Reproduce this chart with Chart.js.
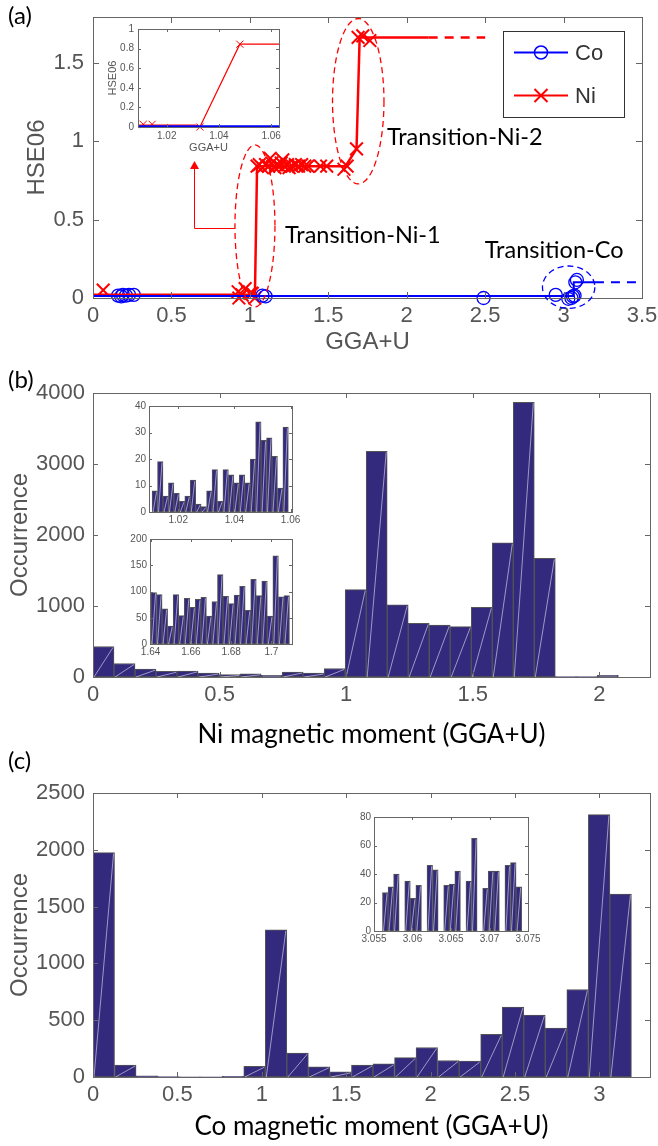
<!DOCTYPE html>
<html>
<head>
<meta charset="utf-8">
<script src="https://cdn.jsdelivr.net/npm/chart.js@4.4.1/dist/chart.umd.min.js"></script>
<style>
  body { margin: 0; background: #fff; width: 658px; height: 1146px; position: relative; overflow: hidden; }
  canvas { position: absolute; }
</style>
</head>
<body>
<canvas id="panelA"></canvas>
<canvas id="panelB"></canvas>
<canvas id="panelC"></canvas>
<canvas id="insetA"></canvas>
<canvas id="insetB1"></canvas>
<canvas id="insetB2"></canvas>
<canvas id="insetC"></canvas>
<script>
// ---------- data ----------
// (a) HSE06 vs GGA+U magnetic moments
const seriesNames = ['Co', 'Ni'];

const coX = [0.16, 0.18, 0.19, 0.21, 0.23, 0.26, 1.08, 1.10, 2.49, 2.95, 3.03, 3.05, 3.06, 3.07, 3.075, 3.085];
const coY = [0.015, 0.01, 0.02, 0.015, 0.02, 0.02, 0.015, 0.01, 0.0, 0.02, -0.005, 0.0, 0.01, 0.015, 0.10, 0.115];
const niX = [0.065, 0.925, 0.93, 0.95, 0.97, 1.0, 1.012, 1.015, 1.032,
  1.046, 1.06, 1.08, 1.10, 1.12, 1.13, 1.14, 1.16, 1.17, 1.19, 1.20, 1.21, 1.22, 1.24, 1.25, 1.27,
  1.29, 1.31, 1.33, 1.35, 1.37, 1.45, 1.49, 1.60, 1.62, 1.68, 1.69, 1.72, 1.765];
const niY = [0.05, 0.04, 0.0, 0.02, 0.06, 0.03, 0.03, 0.03, 0.0,
  0.84, 0.85, 0.83, 0.85, 0.84, 0.89, 0.86, 0.83, 0.85, 0.84, 0.86, 0.88, 0.84, 0.85, 0.83, 0.84,
  0.85, 0.84, 0.85, 0.84, 0.84, 0.84, 0.84, 0.82, 0.84, 0.95, 1.66, 1.67, 1.64];

const coPathX = [0, 3.065, 3.065, 3.2];
const coPathY = [0.012, 0.012, 0.10, 0.10];
const coDashX = [3.2, 3.5];
const coDashY = [0.10, 0.10];
const niPathX = [0, 1.03, 1.032, 1.046, 1.61, 1.68, 1.70, 2.14];
const niPathY = [0.02, 0.02, 0.005, 0.84, 0.84, 0.95, 1.66, 1.66];
const niDashX = [2.14, 2.5];
const niDashY = [1.66, 1.66];

// (a) inset
const zoomCoPathX = [1.009, 1.063];
const zoomCoPathY = [0.007, 0.007];
const zoomNiPathX = [1.009, 1.031, 1.0327, 1.048, 1.063];
const zoomNiPathY = [0.02, 0.02, 0.0, 0.845, 0.845];
const zoomNiX = [1.011, 1.0144, 1.0327, 1.048];
const zoomNiY = [0.027, 0.027, 0.0, 0.845];

// (b) Ni histogram and its two insets
const niBinStart = 0, niBinWidth = 0.083;
const niCounts = [430, 190, 110, 80, 85, 55, 35, 45, 25, 70, 55, 120,
  1230, 3180, 1015, 755, 730, 710, 980, 1890, 3870, 1670, 5, 5, 25];
const niLowStart = 1.0107, niLowWidth = 0.00194;
const niLowCounts = [8, 19, 6, 11, 7, 4, 6, 12, 3, 2, 8, 16, 4, 16, 14, 11, 14, 11, 20, 34, 27, 28, 21, 9, 32];
const niHighStart = 1.6402, niHighWidth = 0.00275;
const niHighCounts = [98, 94, 67, 34, 94, 54, 87, 70, 85, 89, 53, 81, 132, 91, 77, 93, 110, 64, 123, 92, 120, 53, 168, 90, 92];

// (c) Co histogram and inset
const coBinStart = 0, coBinWidth = 0.1276;
const coCounts = [1975, 105, 10, 3, 2, 2, 5, 95, 1295, 210, 90, 45, 105, 115, 170,
  260, 145, 140, 375, 615, 545, 430, 770, 2310, 1610];
const coHighStart = 3.0561, coHighWidth = 0.000723;
const coHighCounts = [27, 31, 40, 0, 35, 23, 32, 0, 46, 43, 0, 32, 33, 42, 0, 35, 65, 0, 30, 42, 42, 0, 46, 48, 31];

// ---------- helpers ----------
const NUM_FONT = '"Liberation Sans", Arial, sans-serif';
const TXT_FONT = 'Lato, sans-serif';
const GREY = '#555';
const BAR = '#332a7e';

const pts = (xs, ys) => xs.map((x, i) => ({ x: x, y: ys[i] }));
const bins = (start, w, counts) => counts.map((c, i) => ({ x: start + (i + 0.5) * w, y: c }));
const fmt = v => String(Math.round(v * 10000) / 10000);

// white streak MATLAB leaves across each bar
const streakPlugin = {
  id: 'streak',
  afterDatasetsDraw(chart) {
    const ctx = chart.ctx;
    ctx.save();
    ctx.strokeStyle = 'rgba(255,255,255,0.75)';
    ctx.lineWidth = 0.7;
    chart.data.datasets.forEach((ds, i) => {
      chart.getDatasetMeta(i).data.forEach(b => {
        const p = b.getProps(['x', 'y', 'base', 'width'], true);
        if (p.base - p.y < 2) return;
        ctx.beginPath();
        ctx.moveTo(p.x - p.width / 2 + 1, p.base);
        ctx.lineTo(p.x + p.width / 2 - 1, p.y + 1);
        ctx.stroke();
      });
    });
    ctx.restore();
  }
};

// box around the axes with inward ticks on all four sides
const framePlugin = {
  id: 'frame',
  beforeDatasetsDraw(chart, args, o) {
    if (!o.fill) return;
    const a = chart.chartArea;
    chart.ctx.fillStyle = o.fill;
    chart.ctx.fillRect(a.left, a.top, a.width, a.height);
  },
  afterDatasetsDraw(chart, args, o) {
    const { ctx, chartArea: a, scales: { x, y } } = chart;
    const L = o.tick || 5;
    ctx.save();
    ctx.strokeStyle = o.color || '#666';
    ctx.lineWidth = 1;
    ctx.beginPath();
    x.ticks.forEach(t => {
      const px = Math.round(x.getPixelForValue(t.value)) + 0.5;
      ctx.moveTo(px, a.bottom); ctx.lineTo(px, a.bottom - L);
      ctx.moveTo(px, a.top); ctx.lineTo(px, a.top + L);
    });
    y.ticks.forEach(t => {
      const py = Math.round(y.getPixelForValue(t.value)) + 0.5;
      ctx.moveTo(a.left, py); ctx.lineTo(a.left + L, py);
      ctx.moveTo(a.right, py); ctx.lineTo(a.right - L, py);
    });
    ctx.stroke();
    ctx.strokeRect(Math.round(a.left) + 0.5, Math.round(a.top) + 0.5,
      Math.round(a.width), Math.round(a.height));
    ctx.restore();
  }
};

// panel letters
const tagPlugin = {
  id: 'tag',
  afterDraw(chart, args, o) {
    if (!o.text) return;
    const ctx = chart.ctx;
    ctx.save();
    ctx.font = '24px ' + TXT_FONT;
    ctx.fillStyle = '#000';
    ctx.textBaseline = 'middle';
    ctx.fillText(o.text, o.x, o.y);
    ctx.restore();
  }
};

// ellipses, arrow, labels and legend of panel (a)
const notesPlugin = {
  id: 'notes',
  afterDraw(chart, args, o) {
    const { ctx, scales: { x, y } } = chart;
    ctx.save();
    ctx.setLineDash([6, 4]);
    ctx.lineWidth = 1.3;
    o.ellipses.forEach(e => {
      const cx = x.getPixelForValue(e.cx), cy = y.getPixelForValue(e.cy);
      const rx = x.getPixelForValue(e.cx + e.rx) - cx;
      const ry = cy - y.getPixelForValue(e.cy + e.ry);
      ctx.strokeStyle = e.color;
      ctx.beginPath();
      ctx.ellipse(cx, cy, rx, ry, 0, 0, 2 * Math.PI);
      ctx.stroke();
    });
    ctx.setLineDash([]);

    // arrow to the inset
    const ar = o.arrow;
    ctx.strokeStyle = 'red';
    ctx.fillStyle = 'red';
    ctx.lineWidth = 1;
    const x1 = x.getPixelForValue(ar.x1), x2 = Math.round(x.getPixelForValue(ar.x2)) + 0.5;
    const y1 = Math.round(y.getPixelForValue(ar.y1)) + 0.5, y2 = y.getPixelForValue(ar.y2);
    const tip = y.getPixelForValue(ar.tip);
    ctx.beginPath();
    ctx.moveTo(x1, y1); ctx.lineTo(x2, y1); ctx.lineTo(x2, y2);
    ctx.stroke();
    ctx.beginPath();
    ctx.moveTo(x2, tip); ctx.lineTo(x2 - 4.5, y2 + 1); ctx.lineTo(x2 + 4.5, y2 + 1);
    ctx.closePath(); ctx.fill();

    ctx.font = '23.5px ' + TXT_FONT;
    ctx.fillStyle = '#000';
    ctx.textBaseline = 'middle';
    o.labels.forEach(l => ctx.fillText(l.text, x.getPixelForValue(l.x), y.getPixelForValue(l.y)));

    // legend
    const lg = o.legend;
    ctx.fillStyle = '#fff';
    ctx.fillRect(lg.x, lg.y, lg.w, lg.h);
    ctx.strokeStyle = '#333';
    ctx.strokeRect(lg.x + 0.5, lg.y + 0.5, lg.w, lg.h);
    ctx.font = '22px ' + NUM_FONT;
    lg.items.forEach((it, i) => {
      const yy = lg.y + lg.h * (i * 2 + 1) / 4;
      const lx0 = lg.x + 11, lx1 = lg.x + 65, mx = (lx0 + lx1) / 2;
      ctx.strokeStyle = it.color;
      ctx.lineWidth = 2;
      ctx.beginPath(); ctx.moveTo(lx0, yy); ctx.lineTo(lx1, yy); ctx.stroke();
      ctx.lineWidth = it.marker === 'circle' ? 1.5 : 2;
      ctx.beginPath();
      if (it.marker === 'circle') {
        ctx.arc(mx, yy, 6.5, 0, 2 * Math.PI);
      } else {
        ctx.moveTo(mx - 6.5, yy - 6.5); ctx.lineTo(mx + 6.5, yy + 6.5);
        ctx.moveTo(mx - 6.5, yy + 6.5); ctx.lineTo(mx + 6.5, yy - 6.5);
      }
      ctx.stroke();
      ctx.fillStyle = '#333';
      ctx.fillText(it.text, lg.x + 72, yy + 1);
    });
    ctx.restore();
  }
};

function axis(min, max, step, size, pad, title, fitSize, horizontal) {
  return {
    type: 'linear', min: min, max: max, offset: false,
    grid: { display: false, drawTicks: false, offset: false },
    border: { display: false },
    ticks: {
      stepSize: step, includeBounds: false, autoSkip: false, maxRotation: 0,
      font: { family: NUM_FONT, size: size }, color: GREY, padding: pad, callback: fmt
    },
    title: title || { display: false },
    afterFit: s => {
      if (horizontal) { s.height = fitSize; s.paddingLeft = 0; s.paddingRight = 0; }
      else { s.width = fitSize; s.paddingTop = 0; s.paddingBottom = 0; }
    }
  };
}

function makeChart(id, box, area, type, datasets, xs, ys, pluginOpts, plugins) {
  const cv = document.getElementById(id);
  cv.width = box.w; cv.height = box.h;
  cv.style.left = box.x + 'px'; cv.style.top = box.y + 'px';
  const xAxis = axis(xs.min, xs.max, xs.step, xs.size, xs.pad, xs.title, box.y + box.h - area.b, true);
  const yAxis = axis(ys.min, ys.max, ys.step, ys.size, ys.pad, ys.title, area.l - box.x, false);
  return new Chart(cv.getContext('2d'), {
    type: type,
    data: { datasets: datasets },
    options: {
      responsive: false, animation: false, devicePixelRatio: 1,
      layout: { padding: { left: 0, bottom: 0, top: area.t - box.y, right: box.x + box.w - area.r } },
      scales: { x: xAxis, y: yAxis },
      plugins: Object.assign({ legend: { display: false }, tooltip: { enabled: false } }, pluginOpts)
    },
    plugins: plugins
  });
}

function barSet(data) {
  return {
    type: 'bar', data: data, backgroundColor: BAR, borderColor: '#555', borderWidth: 1,
    borderSkipped: false, barPercentage: 1, categoryPercentage: 1, grouped: false
  };
}

const lineSet = (data, color, width, dash) => ({
  data: data, showLine: true, pointRadius: 0, borderColor: color, borderWidth: width,
  borderDash: dash || [], fill: false
});
const markSet = (data, color, style, r, w) => ({
  data: data, showLine: false, pointStyle: style, pointRadius: r, borderColor: color,
  backgroundColor: 'rgba(0,0,0,0)', pointBorderWidth: w, clip: false
});

// ---------- panel (a) ----------
makeChart('panelA', { x: 0, y: 0, w: 658, h: 360 }, { l: 93, t: 17, r: 642, b: 298 }, 'scatter', [
  lineSet(pts(coPathX, coPathY), '#0000ff', 2),
  lineSet(pts(coDashX, coDashY), '#0000ff', 2, [9, 7]),
  lineSet(pts(niPathX, niPathY), '#ff0000', 2.5),
  lineSet(pts(niDashX, niDashY), '#ff0000', 2.5, [9, 7]),
  markSet(pts(coX, coY), '#0000ff', 'circle', 6.5, 1.3),
  markSet(pts(niX, niY), '#ff0000', 'crossRot', 9, 2)
],
  { min: 0, max: 3.5, step: 0.5, size: 22, pad: 5,
    title: { display: true, text: 'GGA+U', color: GREY, font: { family: NUM_FONT, size: 24 }, padding: { top: 0, bottom: 3.6 } } },
  { min: 0, max: 1.79, step: 0.5, size: 22, pad: 9,
    title: { display: true, text: 'HSE06', color: GREY, font: { family: NUM_FONT, size: 24 }, padding: { top: 22.6, bottom: 0 } } },
  {
    frame: { tick: 6, color: '#666' },
    tag: { text: '(a)', x: 8, y: 16 },
    notes: {
      ellipses: [
        { cx: 1.0325, cy: 0.459, rx: 0.1275, ry: 0.516, color: 'red' },
        { cx: 1.691, cy: 1.2535, rx: 0.164, ry: 0.527, color: 'red' },
        { cx: 3.0325, cy: 0.069, rx: 0.167, ry: 0.135, color: '#0000ff' }
      ],
      arrow: { x1: 0.905, x2: 0.644, y1: 0.446, y2: 0.828, tip: 0.873 },
      labels: [
        { text: 'Transition-Ni-1', x: 1.224, y: 0.401 },
        { text: 'Transition-Ni-2', x: 1.874, y: 1.025 },
        { text: 'Transition-Co', x: 2.498, y: 0.306 }
      ],
      legend: { x: 503, y: 31, w: 121, h: 86, items: [
        { text: seriesNames[0], color: '#0000ff', marker: 'circle' },
        { text: seriesNames[1], color: '#ff0000', marker: 'cross' }
      ] }
    }
  },
  [framePlugin, tagPlugin, notesPlugin]);

makeChart('insetA', { x: 95, y: 20, w: 190, h: 140 }, { l: 138, t: 29, r: 279, b: 127 }, 'scatter', [
  lineSet(pts(zoomCoPathX, zoomCoPathY), '#0000ff', 2),
  lineSet(pts(zoomNiPathX, zoomNiPathY), '#ff0000', 1.2),
  markSet(pts(zoomNiX, zoomNiY), '#ff0000', 'crossRot', 5, 1)
],
  { min: 1.009, max: 1.063, step: 0.02, size: 10, pad: 3,
    title: { display: true, text: 'GGA+U', color: GREY, font: { family: NUM_FONT, size: 11 }, padding: { top: 0, bottom: 5 } } },
  { min: 0, max: 1, step: 0.2, size: 10, pad: 4,
    title: { display: true, text: 'HSE06', color: GREY, font: { family: NUM_FONT, size: 11 }, padding: { top: 11.5, bottom: 0 } } },
  { frame: { tick: 3, color: '#666', fill: '#fff' } },
  [framePlugin]);

// ---------- panel (b) ----------
makeChart('panelB', { x: 0, y: 360, w: 658, h: 400 }, { l: 93, t: 393, r: 650, b: 677 }, 'bar', [
  barSet(bins(niBinStart, niBinWidth, niCounts))
],
  { min: 0, max: 2.2, step: 0.5, size: 22, pad: 5,
    title: { display: true, text: 'Ni magnetic moment (GGA+U)', color: '#000', font: { family: TXT_FONT, size: 26 }, padding: { top: 0, bottom: 9.4 } } },
  { min: 0, max: 4000, step: 1000, size: 22, pad: 8,
    title: { display: true, text: 'Occurrence', color: GREY, font: { family: NUM_FONT, size: 24 }, padding: { top: 5.6, bottom: 0 } } },
  { frame: { tick: 5, color: '#666' }, tag: { text: '(b)', x: 8, y: 20 } },
  [streakPlugin, framePlugin, tagPlugin]);

makeChart('insetB1', { x: 110, y: 398, w: 190, h: 128 }, { l: 149, t: 406, r: 292, b: 512 }, 'bar', [
  barSet(bins(niLowStart, niLowWidth, niLowCounts))
],
  { min: 1.0096, max: 1.0605, step: 0.02, size: 10, pad: 2 },
  { min: 0, max: 40, step: 10, size: 10, pad: 3 },
  { frame: { tick: 3, color: '#666', fill: '#fff' } },
  [framePlugin, streakPlugin]);

makeChart('insetB2', { x: 110, y: 530, w: 190, h: 128 }, { l: 150, t: 539, r: 292, b: 644 }, 'bar', [
  barSet(bins(niHighStart, niHighWidth, niHighCounts))
],
  { min: 1.6397, max: 1.7102, step: 0.02, size: 10, pad: 2 },
  { min: 0, max: 200, step: 50, size: 10, pad: 3 },
  { frame: { tick: 3, color: '#666', fill: '#fff' } },
  [framePlugin, streakPlugin]);

// ---------- panel (c) ----------
makeChart('panelC', { x: 0, y: 740, w: 658, h: 406 }, { l: 93, t: 793, r: 650, b: 1077 }, 'bar', [
  barSet(bins(coBinStart, coBinWidth, coCounts))
],
  { min: 0, max: 3.3, step: 0.5, size: 22, pad: 5,
    title: { display: true, text: 'Co magnetic moment (GGA+U)', color: '#000', font: { family: TXT_FONT, size: 26 }, padding: { top: 0, bottom: 3.4 } } },
  { min: 0, max: 2500, step: 500, size: 22, pad: 8,
    title: { display: true, text: 'Occurrence', color: GREY, font: { family: NUM_FONT, size: 24 }, padding: { top: 5.6, bottom: 0 } } },
  { frame: { tick: 5, color: '#666' }, tag: { text: '(c)', x: 8, y: 21 } },
  [streakPlugin, framePlugin, tagPlugin]);

makeChart('insetC', { x: 330, y: 808, w: 210, h: 135 }, { l: 374, t: 817, r: 528, b: 931 }, 'bar', [
  barSet(bins(coHighStart, coHighWidth, coHighCounts))
],
  { min: 3.055, max: 3.075, step: 0.005, size: 10, pad: 2 },
  { min: 0, max: 80, step: 20, size: 10, pad: 3 },
  { frame: { tick: 3, color: '#666', fill: '#fff' } },
  [framePlugin, streakPlugin]);
</script>
</body>
</html>
